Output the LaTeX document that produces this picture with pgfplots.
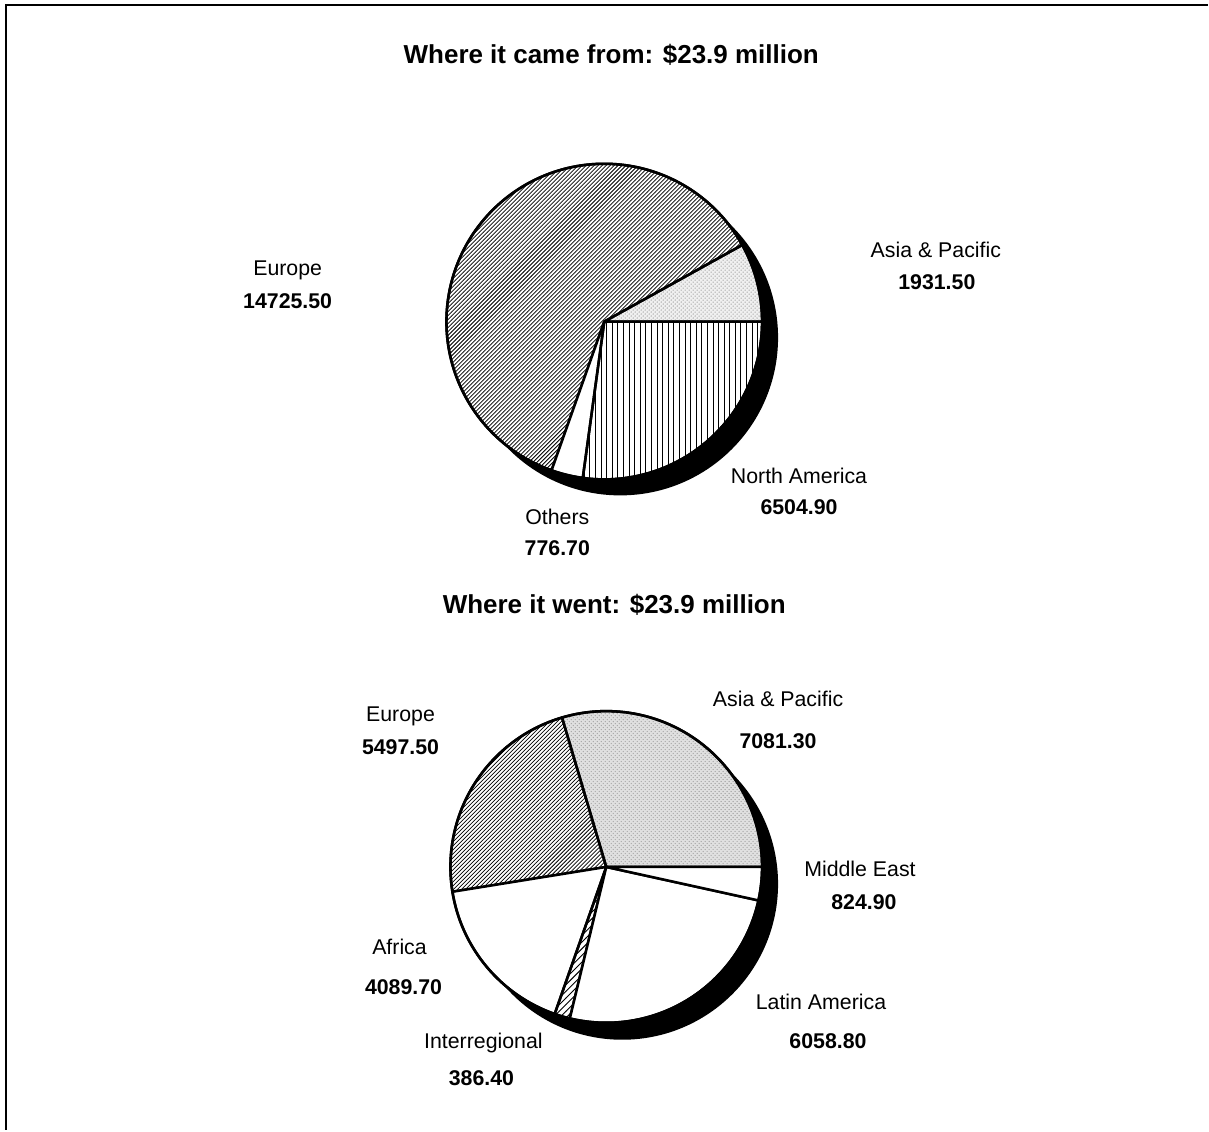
\documentclass[border=0pt]{standalone}
\usepackage{fontspec}
\setmainfont{Liberation Sans}
\usepackage{pgfplots}
\pgfplotsset{compat=1.18}
\usetikzlibrary{patterns}
\pgfdeclarepatternformonly{vlines}{\pgfpoint{-1pt}{-1pt}}{\pgfpoint{4pt}{100pt}}{\pgfpoint{4.2pt}{100pt}}%
{\pgfsetlinewidth{0.75pt}\pgfpathmoveto{\pgfpoint{2pt}{0pt}}\pgfpathlineto{\pgfpoint{2pt}{100.5pt}}\pgfusepath{stroke}}
\pgfdeclarepatternformonly{nelines}{\pgfpoint{-1pt}{-1pt}}{\pgfpoint{4pt}{4pt}}{\pgfpoint{3pt}{3pt}}%
{\pgfsetlinewidth{0.55pt}\pgfpathmoveto{\pgfqpoint{0pt}{0pt}}\pgfpathlineto{\pgfqpoint{3.1pt}{3.1pt}}\pgfusepath{stroke}}
\pgfdeclarepatternformonly{nelinessparse}{\pgfpoint{-1pt}{-1pt}}{\pgfpoint{6pt}{6pt}}{\pgfpoint{5pt}{5pt}}%
{\pgfsetlinewidth{0.7pt}\pgfpathmoveto{\pgfqpoint{0pt}{0pt}}\pgfpathlineto{\pgfqpoint{5.1pt}{5.1pt}}\pgfusepath{stroke}}
% slice: cx, cy, radius, start (sum of previous values), value, style
\newcommand{\slice}[6]{%
  \filldraw[#6] (axis cs:#1,#2) -- ++({\fpeval{(#4)*360/23938.6}}:#3)
    arc[start angle={\fpeval{(#4)*360/23938.6}}, delta angle={\fpeval{(#5)*360/23938.6}}, radius=#3] -- cycle;}
\tikzset{
  lab/.style={font=\fontsize{16}{19}\selectfont, inner sep=0pt},
  num/.style={font=\fontsize{16}{19}\selectfont\bfseries, inner sep=0pt},
  ttl/.style={font=\fontsize{19.5}{23}\selectfont\bfseries, inner sep=0pt},
  edge/.style={line width=1.9pt, line join=round},
}
\begin{document}
\begin{tikzpicture}
\begin{axis}[width=906.75pt, height=848.25pt, scale only axis,
  xmin=0, xmax=1209, ymin=0, ymax=1131, axis lines=none, clip=false]
\path (axis cs:0,0) rectangle (axis cs:1209,1131);
% frame
\draw[line width=2.2pt] (axis cs:1209,1126) -- (axis cs:6,1126) -- (axis cs:6,0);
% titles
\node[ttl] at (axis cs:612,1076) {Where it came from: \$23.9 million};
\node[ttl] at (axis cs:615,525) {Where it went: \$23.9 million};

% ---------- top pie ----------
\fill[black] (axis cs:621,793) circle[radius=118.5pt];
\fill[white] (axis cs:605,809) circle[radius=118.5pt];
% Asia & Pacific 1931.5
\slice{605}{809}{118.5pt}{0}{1931.5}{edge, fill=black!6}
\fill[pattern=crosshatch dots, pattern color=black!40] (axis cs:605,809) -- ++(0:118.5pt) arc[start angle=0, delta angle={\fpeval{1931.5*360/23938.6}}, radius=118.5pt] -- cycle;
% Europe 14725.5
\slice{605}{809}{118.5pt}{1931.5}{14725.5}{edge, pattern=nelines}
% Others 776.7
\slice{605}{809}{118.5pt}{1931.5+14725.5}{776.7}{edge, fill=white}
% North America 6504.9
\slice{605}{809}{118.5pt}{1931.5+14725.5+776.7}{6504.9}{edge, pattern=vlines}
\draw[edge] (axis cs:605,809) circle[radius=118.5pt];

\node[lab] at (axis cs:288,860) {Europe};
\node[num] at (axis cs:288,829) {14725.50};
\node[lab] at (axis cs:937,881) {Asia \& Pacific};
\node[num] at (axis cs:938,848) {1931.50};
\node[lab] at (axis cs:800,655) {North America};
\node[num] at (axis cs:800,623) {6504.90};
\node[lab] at (axis cs:558,613) {Others};
\node[num] at (axis cs:558,582) {776.70};

% ---------- bottom pie ----------
\fill[black] (axis cs:623,246) circle[radius=117pt];
\fill[white] (axis cs:607,263) circle[radius=117pt];
% Asia & Pacific 7081.3
\slice{607}{263}{117pt}{0}{7081.3}{edge, fill=black!12}
\fill[pattern=crosshatch dots, pattern color=black!35] (axis cs:607,263) -- ++(0:117pt) arc[start angle=0, delta angle={\fpeval{7081.3*360/23938.6}}, radius=117pt] -- cycle;
% Europe 5497.5
\slice{607}{263}{117pt}{7081.3}{5497.5}{edge, pattern=nelines}
% Africa 4089.7
\slice{607}{263}{117pt}{7081.3+5497.5}{4089.7}{edge, fill=white}
% Interregional 386.4
\slice{607}{263}{117pt}{7081.3+5497.5+4089.7}{386.4}{edge, pattern=nelinessparse}
% Latin America 6058.8
\slice{607}{263}{117pt}{7081.3+5497.5+4089.7+386.4}{6058.8}{edge, fill=white}
% Middle East 824.9
\slice{607}{263}{117pt}{7081.3+5497.5+4089.7+386.4+6058.8}{824.9}{edge, fill=white}
\draw[edge] (axis cs:607,263) circle[radius=117pt];

\node[lab] at (axis cs:401,414) {Europe};
\node[num] at (axis cs:401,383) {5497.50};
\node[lab] at (axis cs:779,431) {Asia \& Pacific};
\node[num] at (axis cs:779,389) {7081.30};
\node[lab] at (axis cs:861,261) {Middle East};
\node[num] at (axis cs:865,228) {824.90};
\node[lab] at (axis cs:400,183) {Africa};
\node[num] at (axis cs:404,143) {4089.70};
\node[lab] at (axis cs:822,128) {Latin America};
\node[num] at (axis cs:829,89) {6058.80};
\node[lab] at (axis cs:484,87) {Interregional};
\node[num] at (axis cs:482,52) {386.40};
\end{axis}
\end{tikzpicture}
\end{document}
